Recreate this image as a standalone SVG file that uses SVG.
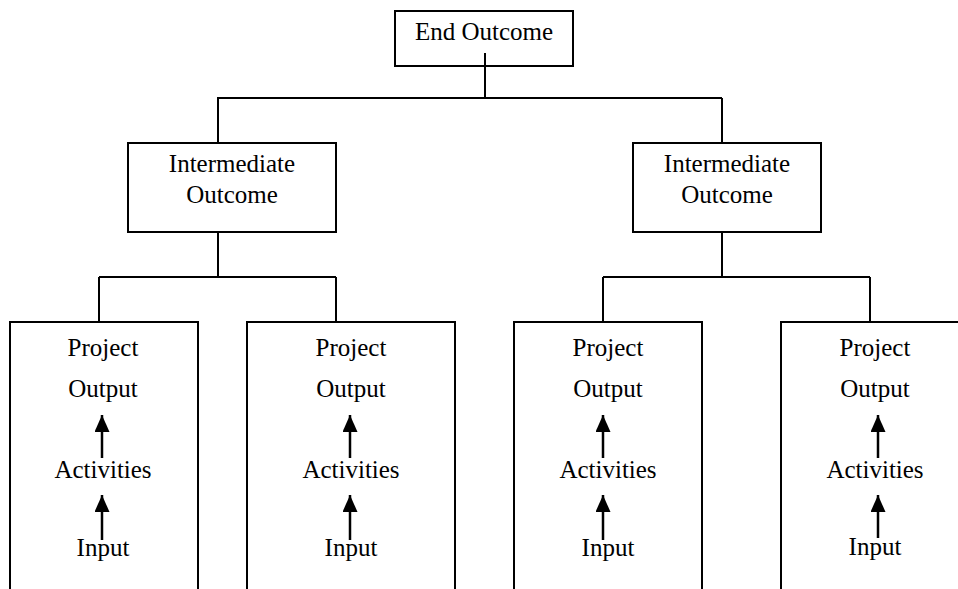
<svg xmlns="http://www.w3.org/2000/svg" width="958" height="589" viewBox="0 0 958 589">
  <style>
    .box { fill: #ffffff; stroke: #000000; stroke-width: 2; }
    .link { fill: none; stroke: #000000; stroke-width: 2; }
    .flow { stroke: #000000; stroke-width: 2.5; marker-end: url(#head); }
    .lbl { font-family: 'Liberation Serif', 'Times New Roman', serif; font-size: 25px; fill: #000000; text-anchor: middle; }
  </style>
  <defs>
    <marker id="head" markerUnits="userSpaceOnUse" markerWidth="17" markerHeight="15" viewBox="0 0 17 15" refX="17" refY="7.5" orient="auto">
      <path d="M0,0 L17,7.5 L0,15 z" fill="#000000"/>
    </marker>
  </defs>
  <rect width="958" height="589" fill="#ffffff"/>

  <g id="end-outcome">
    <rect class="box" x="395" y="11" width="178" height="55"/>
    <text class="lbl" x="484" y="40">End Outcome</text>
  </g>

  <g id="intermediate-left">
    <rect class="box" x="128" y="143" width="208" height="89"/>
    <text class="lbl" x="232" y="172">Intermediate</text>
    <text class="lbl" x="232" y="203">Outcome</text>
  </g>

  <g id="intermediate-right">
    <rect class="box" x="633" y="143" width="188" height="89"/>
    <text class="lbl" x="727" y="172">Intermediate</text>
    <text class="lbl" x="727" y="203">Outcome</text>
  </g>

  <g id="project-1">
    <rect class="box" x="10" y="322" width="188" height="280"/>
    <text class="lbl" x="103" y="356">Project</text>
    <text class="lbl" x="103" y="397">Output</text>
    <text class="lbl" x="103" y="478">Activities</text>
    <text class="lbl" x="103" y="556">Input</text>
    <line class="flow" x1="102" y1="458" x2="102" y2="415"/>
    <line class="flow" x1="102" y1="540" x2="102" y2="495"/>
  </g>

  <g id="project-2">
    <rect class="box" x="247" y="322" width="208" height="280"/>
    <text class="lbl" x="351" y="356">Project</text>
    <text class="lbl" x="351" y="397">Output</text>
    <text class="lbl" x="351" y="478">Activities</text>
    <text class="lbl" x="351" y="556">Input</text>
    <line class="flow" x1="350" y1="458" x2="350" y2="415"/>
    <line class="flow" x1="350" y1="540" x2="350" y2="495"/>
  </g>

  <g id="project-3">
    <rect class="box" x="514" y="322" width="188" height="280"/>
    <text class="lbl" x="608" y="356">Project</text>
    <text class="lbl" x="608" y="397">Output</text>
    <text class="lbl" x="608" y="478">Activities</text>
    <text class="lbl" x="608" y="556">Input</text>
    <line class="flow" x1="603" y1="458" x2="603" y2="415"/>
    <line class="flow" x1="603" y1="540" x2="603" y2="495"/>
  </g>

  <g id="project-4">
    <rect class="box" x="781" y="322" width="188" height="280"/>
    <text class="lbl" x="875" y="356">Project</text>
    <text class="lbl" x="875" y="397">Output</text>
    <text class="lbl" x="875" y="478">Activities</text>
    <text class="lbl" x="875" y="555">Input</text>
    <line class="flow" x1="878" y1="458" x2="878" y2="415"/>
    <line class="flow" x1="878" y1="538" x2="878" y2="495"/>
  </g>

  <g id="connectors">
    <path class="link" d="M485,53 V98 M217,98 H722 M218,98 V143 M722,98 V143"/>
    <path class="link" d="M218,232 V277 M99,277 H336 M99,277 V322 M336,277 V322"/>
    <path class="link" d="M722,232 V277 M603,277 H870 M603,277 V322 M870,277 V322"/>
  </g>
</svg>
